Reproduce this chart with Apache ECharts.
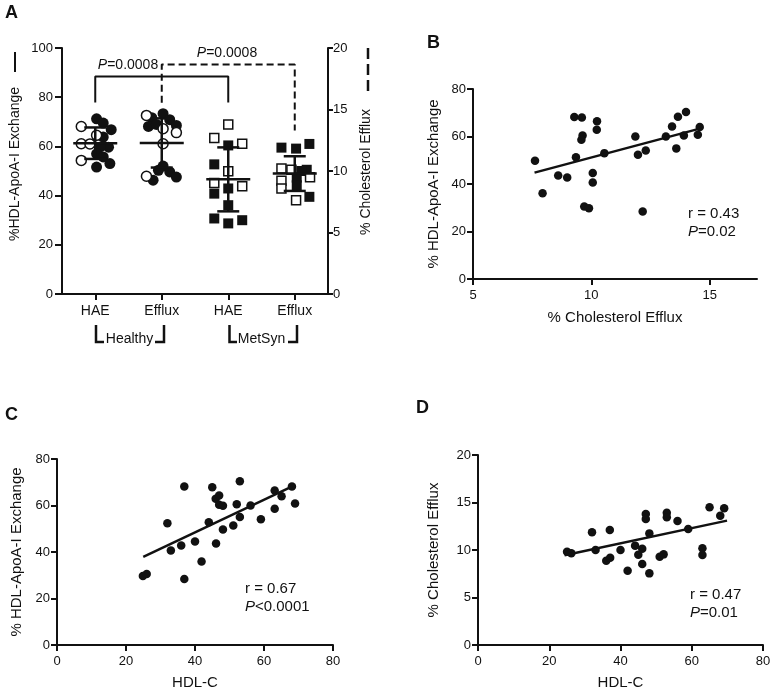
<!DOCTYPE html>
<html><head><meta charset="utf-8">
<script src="https://cdn.jsdelivr.net/npm/echarts@6/dist/echarts.min.js"></script>
<style>html,body{margin:0;padding:0;background:#fff}#c{width:775px;height:694px}</style>
</head><body><div id="c"></div>
<script>
const FONT = '"Liberation Sans", Arial, Helvetica, sans-serif';
const INK = '#111111';

// ---------- Panel A ----------
const catLabelsA = ['HAE', 'Efflux', 'HAE', 'Efflux'];
const groupLabelsA = ['Healthy', 'MetSyn'];
// Healthy, % HDL-ApoA-I exchange (left axis)
const healthyHAEOpen = [68.1, 64.5, 61.1, 61.0, 54.3];
const healthyHAEOpenJit = [-0.21, 0.02, -0.21, -0.08, -0.21];
const healthyHAEFilled = [71.2, 69.5, 66.8, 63.8, 59.7, 59.7, 57.0, 55.7, 53.0, 51.6];
const healthyHAEFilledJit = [0.02, 0.12, 0.24, 0.12, 0.20, 0.07, 0.02, 0.12, 0.22, 0.02];
// Healthy, % cholesterol efflux (right axis)
const healthyEffOpen = [14.52, 13.44, 13.12, 12.22, 9.57];
const healthyEffOpenJit = [-0.23, 0.02, 0.22, 0.02, -0.23];
const healthyEffFilled = [14.66, 14.33, 14.17, 13.62, 13.70, 13.79, 10.40, 10.06, 9.92, 9.25, 9.51];
const healthyEffFilledJit = [0.02, -0.15, 0.12, -0.20, 0.22, -0.08, 0.02, -0.05, 0.12, -0.13, 0.22];
// MetSyn, % HDL-ApoA-I exchange (left axis)
const metHAEOpen = [68.9, 63.4, 61.1, 49.9, 45.1, 43.8];
const metHAEOpenJit = [0, -0.21, 0.21, 0, -0.21, 0.21];
const metHAEFilled = [60.4, 52.7, 40.8, 42.9, 36.1, 30.7, 28.7, 30.0];
const metHAEFilledJit = [0, -0.21, -0.21, 0, 0, -0.21, 0, 0.21];
// MetSyn, % cholesterol efflux (right axis)
const metEffOpen = [10.2, 10.1, 9.5, 9.2, 8.57, 7.62];
const metEffOpenJit = [-0.2, -0.05, 0.23, -0.2, -0.2, 0.02];
const metEffFilled = [11.9, 11.82, 12.2, 10.1, 9.46, 8.84, 7.9, 10.0];
const metEffFilledJit = [-0.2, 0.02, 0.22, 0.18, 0.03, 0.03, 0.22, 0.1];
// mean +/- SD
const sumHAECat = [0, 2], sumHAEMean = [61.3, 46.6], sumHAESd = [6.4, 13.0];
const sumEffCat = [1, 3], sumEffMean = [12.28, 9.79], sumEffSd = [2.0, 1.41];
// significance brackets
const brHAEx = [0, 0, 2, 2], brHAEy = [77.8, 88.4, 88.4, 77.8];
const brEffx = [1, 1, 3, 3], brEffy = [15.55, 18.65, 18.65, 13.3];
const pText = '{i|P}=0.0008';

// ---------- Panel B ----------
const effluxB = [7.62,7.94,8.6,8.98,9.28,9.6,9.63,9.58,9.35,9.7,9.9,10.06,10.06,10.24,10.23,10.55,11.86,11.97,12.3,12.17,13.15,13.41,13.66,14.0,13.91,13.59,14.58,14.5];
const haeB = [49.8,36.1,43.6,42.7,68.2,68.0,60.4,58.6,51.3,30.5,29.8,44.6,40.6,66.4,62.8,53.0,60.0,52.3,54.1,28.4,60.0,64.2,68.3,70.3,60.4,55.0,64.0,60.7];
const fitBx = [7.6, 14.5], fitBy = [44.8, 63.1];

// ---------- Panel C ----------
const hdlC = [24.9,26.0,32.0,33.0,36.0,36.9,36.9,40.0,41.9,44.0,45.0,46.1,46.0,47.0,47.0,48.1,48.1,51.1,52.1,53.0,53.0,56.1,59.1,63.1,63.1,65.1,68.1,69.0];
const haeC = [29.7,30.5,52.4,40.6,42.8,68.2,28.4,44.5,35.9,52.8,67.9,43.7,62.9,64.3,60.3,59.9,49.7,51.4,60.5,70.4,55.1,60.0,54.1,66.5,58.6,64.0,68.2,60.9];
const fitCx = [25.0, 68.2], fitCy = [37.9, 68.2];

// ---------- Panel D ----------
const hdlD = [25.0,26.2,32.0,33.0,36.0,37.1,37.0,40.0,42.0,44.1,45.0,46.1,46.1,47.1,47.1,48.1,48.1,51.0,52.1,53.0,53.0,56.0,59.0,63.0,63.0,65.0,68.0,69.1];
const effD = [9.82,9.65,11.86,10.0,8.88,9.19,12.1,10.0,7.82,10.46,9.51,10.14,8.53,13.79,13.26,11.75,7.54,9.3,9.54,13.93,13.44,13.05,12.21,10.18,9.47,14.49,13.61,14.39];
const fitDx = [24.3, 69.9], fitDy = [9.44, 13.09];

const statsB = ['r = 0.43', '{i|P}=0.02'];
const statsC = ['r = 0.67', '{i|P}<0.0001'];
const statsD = ['r = 0.47', '{i|P}=0.01'];

// ---------- helpers ----------
const zip = (xs, ys) => xs.map((x, i) => [x, ys[i]]);
const jit = (cat, vals, j) => vals.map((v, i) => [cat + j[i], v]);

function axisBase(extra) {
  return Object.assign({
    axisLine: { show: true, onZero: false, lineStyle: { color: INK, width: 2 } },
    axisTick: { show: true, length: 6, lineStyle: { color: INK, width: 2 } },
    axisLabel: { color: INK, fontSize: 13, fontFamily: FONT, margin: 7 },
    splitLine: { show: false },
    nameTextStyle: { color: INK, fontSize: 15, fontFamily: FONT },
    nameLocation: 'middle'
  }, extra);
}

function meanSdRender(params, api) {
  const x = api.value(0), m = api.value(1), s = api.value(2);
  const pm = api.coord([x, m]), pu = api.coord([x, m + s]), pl = api.coord([x, m - s]);
  const st = { stroke: INK, lineWidth: 2.5 };
  return { type: 'group', children: [
    { type: 'line', shape: { x1: pu[0], y1: pu[1], x2: pl[0], y2: pl[1] }, style: st },
    { type: 'line', shape: { x1: pm[0] - 22, y1: pm[1], x2: pm[0] + 22, y2: pm[1] }, style: st },
    { type: 'line', shape: { x1: pu[0] - 11, y1: pu[1], x2: pu[0] + 11, y2: pu[1] }, style: st },
    { type: 'line', shape: { x1: pl[0] - 11, y1: pl[1], x2: pl[0] + 11, y2: pl[1] }, style: st }
  ]};
}

const filledStyle = { color: INK, opacity: 1 };
const openStyle = { color: '#ffffff', borderColor: INK, borderWidth: 1.5, opacity: 1 };

function sc(name, data, xi, yi, symbol, size, style) {
  return { type: 'scatter', name, data, xAxisIndex: xi, yAxisIndex: yi, symbol, symbolSize: size,
    itemStyle: style, silent: true, animation: false };
}
function ln(data, xi, yi, style) {
  return { type: 'line', data, xAxisIndex: xi, yAxisIndex: yi, symbol: 'none', lineStyle: style,
    silent: true, animation: false, z: 4 };
}

function txt(x, y, text, size, extra) {
  return { type: 'text', x, y, silent: true, style: Object.assign({
    text, fill: INK, fontSize: size, fontFamily: FONT, align: 'left', verticalAlign: 'middle',
    rich: { i: { fontStyle: 'italic', fontSize: size, fontFamily: FONT, fill: INK } }
  }, extra || {}) };
}
function poly(points, extra) {
  return { type: 'polyline', silent: true, shape: { points },
    style: Object.assign({ stroke: INK, lineWidth: 2.5, fill: null }, extra || {}) };
}

const chart = echarts.init(document.getElementById('c'), null, { renderer: 'canvas' });

const option = {
  backgroundColor: '#ffffff',
  animation: false,
  grid: [
    { left: 62, top: 48, width: 266, height: 246 },
    { left: 473, top: 89, width: 284, height: 190 },
    { left: 57, top: 459, width: 276, height: 186 },
    { left: 478, top: 455, width: 285, height: 190 }
  ],
  xAxis: [
    axisBase({ type: 'category', gridIndex: 0, data: catLabelsA, boundaryGap: true,
      axisTick: { show: true, alignWithLabel: true, length: 6, lineStyle: { color: INK, width: 2 } },
      axisLabel: { color: INK, fontSize: 14, fontFamily: FONT, margin: 10 } }),
    { type: 'value', gridIndex: 0, min: -0.5, max: 3.5, show: false },
    axisBase({ type: 'value', gridIndex: 1, min: 5, max: 17, interval: 5,
      axisTick: { show: true, length: 6, customValues: [5, 10, 15], lineStyle: { color: INK, width: 2 } },
      axisLabel: { color: INK, fontSize: 13, fontFamily: FONT, margin: 10, customValues: [5, 10, 15] },
      name: '% Cholesterol Efflux', nameGap: 31 }),
    axisBase({ type: 'value', gridIndex: 2, min: 0, max: 80, interval: 20,
      axisLabel: { color: INK, fontSize: 13, fontFamily: FONT, margin: 10 },
      name: 'HDL-C', nameGap: 30 }),
    axisBase({ type: 'value', gridIndex: 3, min: 0, max: 80, interval: 20,
      axisLabel: { color: INK, fontSize: 13, fontFamily: FONT, margin: 10 },
      name: 'HDL-C', nameGap: 30 })
  ],
  yAxis: [
    axisBase({ type: 'value', gridIndex: 0, min: 0, max: 100, interval: 20,
      axisTick: { show: true, length: 7, lineStyle: { color: INK, width: 2 } },
      axisLabel: { color: INK, fontSize: 13, fontFamily: FONT, margin: 9 } }),
    axisBase({ type: 'value', gridIndex: 0, min: 0, max: 20, interval: 5, position: 'right',
      axisTick: { show: true, length: 5, lineStyle: { color: INK, width: 2 } },
      axisLabel: { color: INK, fontSize: 13, fontFamily: FONT, margin: 5 } }),
    axisBase({ type: 'value', gridIndex: 1, min: 0, max: 80, interval: 20,
      name: '% HDL-ApoA-I Exchange', nameGap: 32, nameRotate: 90 }),
    axisBase({ type: 'value', gridIndex: 2, min: 0, max: 80, interval: 20,
      name: '% HDL-ApoA-I Exchange', nameGap: 33, nameRotate: 90 }),
    axisBase({ type: 'value', gridIndex: 3, min: 0, max: 20, interval: 5,
      name: '% Cholesterol Efflux', nameGap: 37, nameRotate: 90 })
  ],
  series: [
    // Panel A points (filled first, open on top)
    sc('Healthy HAE filled', jit(0, healthyHAEFilled, healthyHAEFilledJit), 1, 0, 'circle', 11, filledStyle),
    sc('Healthy HAE open', jit(0, healthyHAEOpen, healthyHAEOpenJit), 1, 0, 'circle', 10, openStyle),
    sc('Healthy Efflux filled', jit(1, healthyEffFilled, healthyEffFilledJit), 1, 1, 'circle', 11, filledStyle),
    sc('Healthy Efflux open', jit(1, healthyEffOpen, healthyEffOpenJit), 1, 1, 'circle', 10, openStyle),
    sc('MetSyn HAE filled', jit(2, metHAEFilled, metHAEFilledJit), 1, 0, 'rect', 10, filledStyle),
    sc('MetSyn HAE open', jit(2, metHAEOpen, metHAEOpenJit), 1, 0, 'rect', 9, openStyle),
    sc('MetSyn Efflux filled', jit(3, metEffFilled, metEffFilledJit), 1, 1, 'rect', 10, filledStyle),
    sc('MetSyn Efflux open', jit(3, metEffOpen, metEffOpenJit), 1, 1, 'rect', 9, openStyle),
    { type: 'custom', xAxisIndex: 1, yAxisIndex: 0, renderItem: meanSdRender, z: 5, silent: true,
      encode: { x: 0, y: 1 }, data: sumHAECat.map((c, i) => [c, sumHAEMean[i], sumHAESd[i]]) },
    { type: 'custom', xAxisIndex: 1, yAxisIndex: 1, renderItem: meanSdRender, z: 5, silent: true,
      encode: { x: 0, y: 1 }, data: sumEffCat.map((c, i) => [c, sumEffMean[i], sumEffSd[i]]) },
    ln(zip(brHAEx, brHAEy), 1, 0, { color: INK, width: 2 }),
    ln(zip(brEffx, brEffy), 1, 1, { color: INK, width: 2, type: [7, 4] }),
    // Panel B
    sc('B', zip(effluxB, haeB), 2, 2, 'circle', 8.5, filledStyle),
    ln(zip(fitBx, fitBy), 2, 2, { color: INK, width: 2.5 }),
    // Panel C
    sc('C', zip(hdlC, haeC), 3, 3, 'circle', 8.5, filledStyle),
    ln(zip(fitCx, fitCy), 3, 3, { color: INK, width: 2.5 }),
    // Panel D
    sc('D', zip(hdlD, effD), 4, 4, 'circle', 8.5, filledStyle),
    ln(zip(fitDx, fitDy), 4, 4, { color: INK, width: 2.5 })
  ],
  graphic: [
    txt(5, 13, 'A', 18, { fontWeight: 'bold' }),
    txt(427, 43, 'B', 18, { fontWeight: 'bold' }),
    txt(5, 415, 'C', 18, { fontWeight: 'bold' }),
    txt(416, 408, 'D', 18, { fontWeight: 'bold' }),
    // Panel A axis titles with line-style keys
    { type: 'text', x: 15, y: 164, rotation: Math.PI / 2, silent: true,
      style: { text: '%HDL-ApoA-I Exchange', fill: INK, fontSize: 14, fontFamily: FONT, align: 'center', verticalAlign: 'middle' } },
    poly([[15, 52], [15, 72]], { lineWidth: 2 }),
    { type: 'text', x: 366, y: 172, rotation: Math.PI / 2, silent: true,
      style: { text: '% Cholesterol Efflux', fill: INK, fontSize: 14, fontFamily: FONT, align: 'center', verticalAlign: 'middle' } },
    poly([[368, 48], [368, 93]], { lineWidth: 2.5, lineDash: [11, 5] }),
    // P values
    txt(128, 65, pText, 14, { align: 'center' }),
    txt(227, 53, pText, 14, { align: 'center' }),
    // group brackets
    poly([[96, 325], [96, 342], [104, 342]]),
    poly([[155, 342], [164, 342], [164, 325]]),
    txt(129.5, 339, groupLabelsA[0], 14, { align: 'center' }),
    poly([[229.5, 325], [229.5, 342], [237, 342]]),
    poly([[288, 342], [297, 342], [297, 325]]),
    txt(261.5, 339, groupLabelsA[1], 14, { align: 'center' }),
    // stats
    txt(688, 214, statsB[0], 15), txt(688, 232, statsB[1], 15),
    txt(245, 589, statsC[0], 15), txt(245, 607, statsC[1], 15),
    txt(690, 595, statsD[0], 15), txt(690, 613, statsD[1], 15)
  ]
};
chart.setOption(option);
</script>
</body></html>
